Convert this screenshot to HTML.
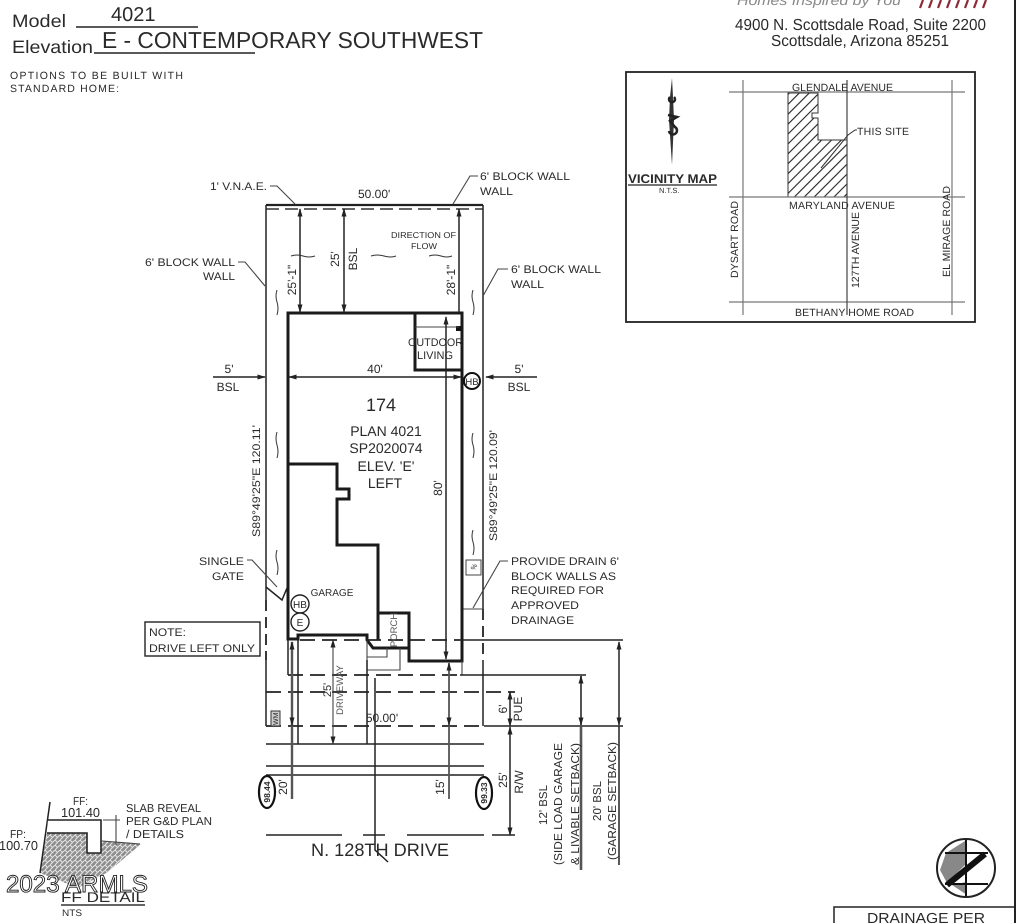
<!DOCTYPE html>
<html>
<head>
<meta charset="utf-8">
<style>
html,body{margin:0;padding:0;background:#fff}
svg{display:block;filter:blur(.35px)}
text{font-family:"Liberation Sans",sans-serif;fill:#2a2a2a;text-rendering:geometricPrecision}
.l{stroke:#222;stroke-width:1.5;fill:none}
.t{stroke:#1a1a1a;stroke-width:3;fill:none}
.m{stroke:#444;stroke-width:1.1;fill:none}
.d{stroke:#222;stroke-width:1.8;fill:none;stroke-dasharray:15 7}
.g{stroke:#555;stroke-width:2.4;fill:none}
.s{font-size:11px}
.w{stroke:#333;stroke-width:1;fill:none}
</style>
</head>
<body>
<svg width="1024" height="923" viewBox="0 0 1024 923" xmlns="http://www.w3.org/2000/svg">
<defs>
<pattern id="h" width="7" height="7" patternUnits="userSpaceOnUse" patternTransform="rotate(-45)"><rect width="7" height="7" fill="#fff"/><line x1="0" y1="1" x2="7" y2="1" stroke="#222" stroke-width="1.1"/></pattern>
<pattern id="x" width="5" height="5" patternUnits="userSpaceOnUse"><rect width="5" height="5" fill="#8e8e8e"/><path d="M0 5L5 0M0 0L2.5 2.5" stroke="#e4e4e4" stroke-width="1"/></pattern>
<marker id="a" viewBox="0 0 10 6" refX="9" refY="3" markerUnits="userSpaceOnUse" markerWidth="9" markerHeight="5" orient="auto-start-reverse"><path d="M0 0L10 3L0 6z" fill="#222"/></marker>
</defs>
<rect width="1024" height="923" fill="#fff"/>

<!-- header -->
<text x="12" y="27" font-size="18" textLength="54" lengthAdjust="spacingAndGlyphs">Model</text>
<text x="111" y="21" font-size="20">4021</text>
<line x1="76" y1="27" x2="198" y2="27" class="l"/>
<text x="12" y="53" font-size="18" textLength="81" lengthAdjust="spacingAndGlyphs">Elevation</text>
<text x="102" y="48" font-size="23" textLength="381" lengthAdjust="spacingAndGlyphs">E - CONTEMPORARY SOUTHWEST</text>
<line x1="94" y1="53" x2="255" y2="53" class="l"/>
<text x="10" y="79" font-size="10.5" textLength="173" lengthAdjust="spacing">OPTIONS TO BE BUILT WITH</text>
<text x="10" y="92" font-size="10.5" textLength="109" lengthAdjust="spacing">STANDARD HOME:</text>

<text x="737" y="5" font-size="14" font-style="italic" style="fill:#888" textLength="164" lengthAdjust="spacingAndGlyphs">Homes Inspired by You</text>
<path d="M920 8L923 0M929 8L932 0M938 8L941 0M947 8L950 0M956 8L959 0M965 8L968 0M974 8L977 0M983 8L986 0" stroke="#8c2a35" stroke-width="2.2" fill="none"/>
<text x="735" y="30" font-size="16" textLength="251" lengthAdjust="spacingAndGlyphs">4900 N. Scottsdale Road, Suite 2200</text>
<text x="771" y="46" font-size="16" textLength="178" lengthAdjust="spacingAndGlyphs">Scottsdale, Arizona 85251</text>
<line x1="1015" y1="0" x2="1015" y2="923" stroke="#222" stroke-width="2"/>

<!-- vicinity map -->
<rect x="626" y="72" width="349" height="250" fill="#fff" stroke="#222" stroke-width="1.8"/>
<path d="M788 93H818V113H812V118H818V140H847V197H788z" fill="url(#h)" stroke="#333" stroke-width="1"/>
<g stroke="#777" stroke-width="1.2" fill="none">
<line x1="729" y1="92" x2="965" y2="92"/><line x1="729" y1="197" x2="965" y2="197"/><line x1="729" y1="302" x2="965" y2="302"/>
<line x1="743" y1="80" x2="743" y2="315"/><line x1="847" y1="80" x2="847" y2="315" stroke="#444"/><line x1="952" y1="80" x2="952" y2="315"/>
</g>
<path d="M821 168L848 135L855 130H857" stroke="#333" fill="none"/>
<path d="M672 78L670 97L669 120L672 165L674 120L673 97z" fill="#333"/>
<path d="M670 97a3 3 0 1 0 4 0M668 115L677 117L670 121L675 127a4 4 0 1 1-6 4" stroke="#222" stroke-width="2.5" fill="none"/>
<text x="628" y="183" font-size="12.5" font-weight="bold" textLength="89" lengthAdjust="spacingAndGlyphs">VICINITY MAP</text>
<line x1="628" y1="185" x2="717" y2="185" stroke="#222" stroke-width="1.3"/>
<text x="659" y="193" font-size="7.5">N.T.S.</text>
<g font-size="10.5">
<text x="792" y="91" textLength="101" lengthAdjust="spacing">GLENDALE AVENUE</text>
<text x="857" y="135" textLength="52" lengthAdjust="spacing">THIS SITE</text>
<text x="789" y="209" textLength="106" lengthAdjust="spacing">MARYLAND AVENUE</text>
<text x="795" y="316" textLength="119" lengthAdjust="spacing">BETHANY HOME ROAD</text>
<text transform="translate(738,278) rotate(-90)" textLength="77" lengthAdjust="spacing">DYSART ROAD</text>
<text transform="translate(859,288) rotate(-90)" textLength="76" lengthAdjust="spacing">127TH AVENUE</text>
<text transform="translate(950,277) rotate(-90)" textLength="91" lengthAdjust="spacing">EL MIRAGE ROAD</text>
</g>

<!-- lot -->
<line x1="266" y1="205" x2="483" y2="205" stroke="#222" stroke-width="2.2"/>
<line x1="266" y1="209" x2="483" y2="209" stroke="#666" stroke-width="2" stroke-dasharray="13 6"/>
<path d="M266 205V600M483 205V609" class="l"/>
<path d="M266 600V660M483 609V660" class="d" style="stroke-dasharray:11 6"/>
<path d="M266 660V726M483 660V726" class="l"/>
<path d="M462 609H483" class="m"/>

<!-- house -->
<path d="M288 313H462V661H409V648H373L367 640V635H298V639H288z" class="t"/>
<path d="M415 313V370H462" class="t"/>
<path d="M288 464H337V489H349V499H337V545H378V640M378 613H409V648" class="t"/>
<path d="M387 648V657H367M400 648V670H367V640" class="m"/>
<rect x="456" y="326" width="5" height="5" fill="#111"/>
<path d="M415 327H459" class="m"/>
<path d="M462 661V675" class="m"/>

<!-- setback lines -->
<path d="M288 640V675" class="l"/>
<path d="M300 640H460" class="d"/>
<path d="M460 640H623" class="l"/>
<path d="M288 675H460" class="d"/>
<path d="M460 675H586" class="l"/>
<path d="M266 692H515" class="d"/>
<path d="M266 726H484" class="d"/>
<path d="M484 726H623" class="l"/>
<path d="M266 744H484M266 766H484M266 775H484" class="l"/>
<path d="M266 835H342M363 835H385M407 835H484M492 835H515" class="l"/>

<!-- verticals -->
<line x1="292" y1="726" x2="292" y2="799" class="g"/>
<line x1="292" y1="642" x2="292" y2="725" class="g" marker-start="url(#a)" marker-end="url(#a)"/>
<path d="M298 640V744M367 660V744" class="l"/>
<line x1="333" y1="640" x2="333" y2="744" class="m" marker-start="url(#a)" marker-end="url(#a)"/>
<path d="M375 678V850L388 862" class="l"/>
<line x1="449" y1="726" x2="449" y2="799" class="g" style="stroke-width:1.8"/>
<line x1="449" y1="663" x2="449" y2="725" class="g" style="stroke-width:1.8" marker-start="url(#a)" marker-end="url(#a)"/>
<line x1="446" y1="317" x2="446" y2="659" class="l" marker-start="url(#a)" marker-end="url(#a)"/>
<line x1="510" y1="692" x2="510" y2="726" class="l" marker-start="url(#a)" marker-end="url(#a)"/>
<line x1="510" y1="727" x2="510" y2="835" class="l" marker-start="url(#a)" marker-end="url(#a)"/>
<line x1="581" y1="726" x2="581" y2="870" class="g" style="stroke-width:2.6"/>
<line x1="581" y1="676" x2="581" y2="725" class="g" style="stroke-width:2" marker-start="url(#a)" marker-end="url(#a)"/>
<line x1="619" y1="726" x2="619" y2="865" class="l"/>
<line x1="619" y1="642" x2="619" y2="725" class="l" marker-start="url(#a)" marker-end="url(#a)"/>

<!-- dims -->
<line x1="300" y1="209" x2="300" y2="312" class="l" marker-start="url(#a)" marker-end="url(#a)"/>
<line x1="344" y1="209" x2="344" y2="312" class="l" marker-start="url(#a)" marker-end="url(#a)"/>
<line x1="459" y1="209" x2="459" y2="312" class="l" marker-start="url(#a)"/>
<line x1="289" y1="377" x2="461" y2="377" class="l" marker-start="url(#a)" marker-end="url(#a)"/>
<line x1="213" y1="377" x2="265" y2="377" class="l" marker-end="url(#a)"/>
<line x1="537" y1="377" x2="486" y2="377" class="l" marker-end="url(#a)"/>

<!-- leaders -->
<path d="M270 186H277L295 204" class="m"/>
<path d="M453 204L470 176H478" class="m"/>
<path d="M238 262H245L265 286" class="m"/>
<path d="M483 296L498 269H508" class="m"/>
<path d="M247 560H252L277 587" class="m"/>
<path d="M266 587L282 600L287 588" class="l"/>
<path d="M473 608L500 561H508" class="m"/>

<!-- flow marks -->
<g class="w">
<path d="M291 256q6-2 12 0t12 0M371 256q6-2 13 0t12 0M429 256q6-2 12 0t11 0"/>
<path d="M277 290q-2 6 0 12t0 13M473 290q-2 6 0 12t0 13M277 432q-2 6 0 13t0 13M277 550q-2 6 0 12t0 13M473 433q-2 6 0 12t0 13M473 530q-2 6 0 12t0 13"/>
</g>

<!-- lot labels -->
<text x="210" y="190" class="s" textLength="57" lengthAdjust="spacingAndGlyphs">1' V.N.A.E.</text>
<text x="358" y="198" font-size="12">50.00'</text>
<text x="480" y="180" class="s" textLength="90" lengthAdjust="spacingAndGlyphs">6' BLOCK WALL</text>
<text x="480" y="195" class="s" textLength="33" lengthAdjust="spacingAndGlyphs">WALL</text>
<text x="145" y="266" class="s" textLength="90" lengthAdjust="spacingAndGlyphs">6' BLOCK WALL</text>
<text x="203" y="280" class="s" textLength="32" lengthAdjust="spacingAndGlyphs">WALL</text>
<text x="511" y="273" class="s" textLength="90" lengthAdjust="spacingAndGlyphs">6' BLOCK WALL</text>
<text x="511" y="288" class="s" textLength="33" lengthAdjust="spacingAndGlyphs">WALL</text>
<text x="391" y="238" font-size="8.5" textLength="65" lengthAdjust="spacingAndGlyphs">DIRECTION OF</text>
<text x="411" y="249" font-size="8.5" textLength="26" lengthAdjust="spacingAndGlyphs">FLOW</text>
<g font-size="12" text-anchor="middle">
<text transform="translate(296,280) rotate(-90)">25'-1"</text>
<text transform="translate(339,259) rotate(-90)">25'</text>
<text transform="translate(357,259) rotate(-90)">BSL</text>
<text transform="translate(455,280) rotate(-90)">28'-1"</text>
<text x="375" y="373">40'</text>
<text x="229" y="373">5'</text><text x="228" y="391">BSL</text>
<text x="519" y="373">5'</text><text x="519" y="391">BSL</text>
<text transform="translate(442,488) rotate(-90)">80'</text>
</g>
<text x="408" y="346" class="s" textLength="55" lengthAdjust="spacingAndGlyphs">OUTDOOR</text>
<text x="417" y="359" class="s" textLength="36" lengthAdjust="spacingAndGlyphs">LIVING</text>
<circle cx="472" cy="381" r="8" fill="#fff" stroke="#111" stroke-width="2"/>
<text x="472" y="385" font-size="9.5" text-anchor="middle">HB</text>

<g text-anchor="middle">
<text x="381" y="411" font-size="18">174</text>
<text x="386" y="436" font-size="14">PLAN 4021</text>
<text x="386" y="453" font-size="14">SP2020074</text>
<text x="386" y="471" font-size="14">ELEV. 'E'</text>
<text x="385" y="488" font-size="14">LEFT</text>
<text x="332" y="596" font-size="10">GARAGE</text>
</g>
<text transform="translate(260,537) rotate(-90)" class="s" textLength="112" lengthAdjust="spacingAndGlyphs">S89°49'25"E 120.11'</text>
<text transform="translate(497,541) rotate(-90)" class="s" textLength="111" lengthAdjust="spacingAndGlyphs">S89°49'25"E 120.09'</text>
<text x="199" y="565" class="s" textLength="45" lengthAdjust="spacingAndGlyphs">SINGLE</text>
<text x="212" y="580" class="s" textLength="32" lengthAdjust="spacingAndGlyphs">GATE</text>
<circle cx="300" cy="604" r="9" fill="#fff" stroke="#222" stroke-width="1.4"/>
<circle cx="300" cy="622" r="9" fill="#fff" stroke="#222" stroke-width="1.4"/>
<text x="300" y="608" font-size="10" text-anchor="middle">HB</text>
<text x="300" y="626" font-size="10" text-anchor="middle">E</text>
<text transform="translate(397,630) rotate(-90)" font-size="9.5" text-anchor="middle" style="fill:#555">PORCH</text>
<rect x="466" y="560" width="15" height="15" fill="#fff" stroke="#444"/>
<text transform="translate(476,568) rotate(-60)" font-size="7" text-anchor="middle">%</text>
<g class="s">
<text x="511" y="565" textLength="108" lengthAdjust="spacingAndGlyphs">PROVIDE DRAIN 6'</text>
<text x="511" y="580" textLength="105" lengthAdjust="spacingAndGlyphs">BLOCK WALLS AS</text>
<text x="511" y="594" textLength="93" lengthAdjust="spacingAndGlyphs">REQUIRED FOR</text>
<text x="511" y="609" textLength="68" lengthAdjust="spacingAndGlyphs">APPROVED</text>
<text x="511" y="624" textLength="63" lengthAdjust="spacingAndGlyphs">DRAINAGE</text>
</g>
<rect x="145" y="622" width="115" height="34" fill="#fff" stroke="#222" stroke-width="1.4"/>
<text x="149" y="636" class="s" textLength="37" lengthAdjust="spacingAndGlyphs">NOTE:</text>
<text x="149" y="652" class="s" textLength="106" lengthAdjust="spacingAndGlyphs">DRIVE LEFT ONLY</text>

<!-- bottom labels -->
<g text-anchor="middle">
<text transform="translate(331,690) rotate(-90)" font-size="11">25'</text>
<text transform="translate(343,690) rotate(-90)" font-size="9.5" style="fill:#555">DRIVEWAY</text>
<text x="382" y="722" font-size="12">50.00'</text>
<text transform="translate(507,709) rotate(-90)" font-size="12">6'</text>
<text transform="translate(522,709) rotate(-90)" font-size="12">PUE</text>
<text transform="translate(507,780) rotate(-90)" font-size="12">25'</text>
<text transform="translate(523,782) rotate(-90)" font-size="12">R/W</text>
<text transform="translate(287,787) rotate(-90)" font-size="12">20'</text>
<text transform="translate(444,787) rotate(-90)" font-size="12">15'</text>
<text transform="translate(547,805) rotate(-90)" font-size="11.5">12' BSL</text>
<text transform="translate(562,804) rotate(-90)" font-size="11.5" textLength="122" lengthAdjust="spacingAndGlyphs">(SIDE LOAD GARAGE</text>
<text transform="translate(579,804) rotate(-90)" font-size="11.5" textLength="122" lengthAdjust="spacingAndGlyphs">&amp; LIVABLE SETBACK)</text>
<text transform="translate(601,801) rotate(-90)" font-size="11.5">20' BSL</text>
<text transform="translate(616,801) rotate(-90)" font-size="11.5" textLength="118" lengthAdjust="spacingAndGlyphs">(GARAGE SETBACK)</text>
</g>
<rect x="271" y="711" width="9" height="15" fill="#ccc" stroke="#333"/>
<text transform="translate(278,725) rotate(-90)" font-size="7">WM</text>
<ellipse cx="267" cy="792" rx="8" ry="16" fill="#fff" stroke="#111" stroke-width="2.2"/>
<ellipse cx="484" cy="793" rx="8" ry="16" fill="#fff" stroke="#111" stroke-width="2.2"/>
<text transform="translate(270,792) rotate(-90)" font-size="8.5" font-weight="bold" text-anchor="middle">98.44</text>
<text transform="translate(487,793) rotate(-90)" font-size="8.5" font-weight="bold" text-anchor="middle">99.33</text>
<text x="311" y="856" font-size="18" textLength="138" lengthAdjust="spacingAndGlyphs">N. 128TH DRIVE</text>

<!-- FF detail -->
<path d="M47 833H87V853H101V841L141 844L108 872L78 888L40 873z" fill="url(#x)"/>
<path d="M50 802L40 873" class="l"/>
<path d="M48 820H101V853H87V833H47" stroke="#222" stroke-width="1.6" fill="#fff"/>
<path d="M103 820H120M116 815V845M102 841L140 844" class="m"/>
<g font-size="11.5">
<text x="73" y="805" textLength="15" lengthAdjust="spacingAndGlyphs">FF:</text>
<text x="61" y="817" font-size="13" textLength="39" lengthAdjust="spacingAndGlyphs">101.40</text>
<text x="10" y="838" textLength="16" lengthAdjust="spacingAndGlyphs">FP:</text>
<text x="-1" y="850" font-size="13" textLength="39" lengthAdjust="spacingAndGlyphs">100.70</text>
<text x="126" y="812" textLength="75" lengthAdjust="spacingAndGlyphs">SLAB REVEAL</text>
<text x="126" y="825" textLength="86" lengthAdjust="spacingAndGlyphs">PER G&amp;D PLAN</text>
<text x="126" y="838" textLength="58" lengthAdjust="spacingAndGlyphs">/ DETAILS</text>
</g>
<text x="61" y="902" font-size="14" textLength="84" lengthAdjust="spacingAndGlyphs">FF DETAIL</text>
<line x1="61" y1="905" x2="145" y2="905" stroke="#333" stroke-width="1.6"/>
<text x="62" y="916" font-size="9.5" textLength="20" lengthAdjust="spacingAndGlyphs">NTS</text>
<text x="6" y="892" font-size="24" textLength="142" lengthAdjust="spacingAndGlyphs" style="fill:#fff;stroke:#222;stroke-width:.9">2023 ARMLS</text>

<!-- north arrow -->
<circle cx="966" cy="868" r="29" fill="#fff" stroke="#222" stroke-width="2"/>
<path d="M965 841L946 853L940 870L947 883L966 864z" fill="#888"/>
<path d="M966 882H967V895L952 885z" fill="#888"/>
<path d="M966 840V896" stroke="#111" stroke-width="2" fill="none"/>
<path d="M945 853H988" stroke="#111" stroke-width="2" fill="none"/>
<path d="M945 884H988" stroke="#111" stroke-width="2" fill="none"/>
<path d="M947 885L985 854" stroke="#111" stroke-width="6" fill="none"/>

<!-- drainage box -->
<path d="M834 923V907H1015" stroke="#222" stroke-width="1.5" fill="none"/>
<text x="926" y="923" font-size="14.5" text-anchor="middle" textLength="118" lengthAdjust="spacingAndGlyphs">DRAINAGE PER</text>
</svg>
</body>
</html>
